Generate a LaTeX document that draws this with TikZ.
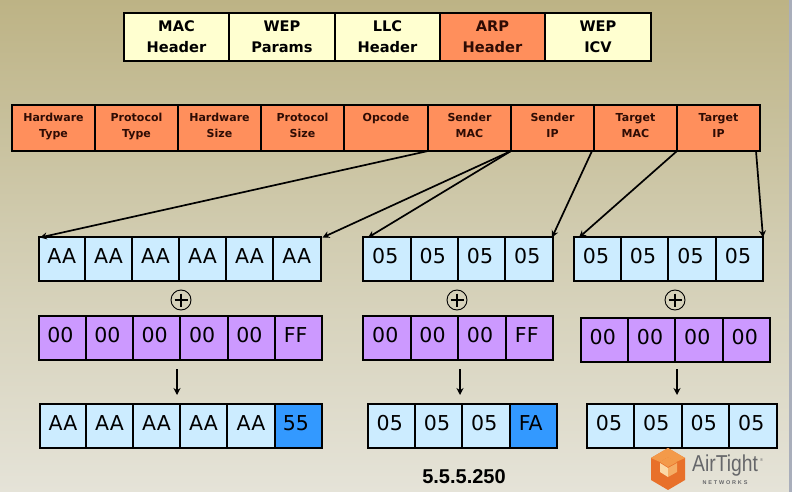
\documentclass[tikz,border=0pt]{standalone}
\usepackage{fontspec}
\setmainfont{DejaVu Sans}
\newfontfamily\arialf{Liberation Sans}
\usetikzlibrary{arrows.meta}
\definecolor{bgT}{HTML}{BDB385}
\definecolor{bgM}{HTML}{D2CDB2}
\definecolor{bgB}{HTML}{E5E3D8}
\definecolor{bgS}{HTML}{A9AEBB}
\definecolor{hdr}{HTML}{FFFFD0}
\definecolor{org}{HTML}{FF8F5C}
\definecolor{pale}{HTML}{CCECFF}
\definecolor{lil}{HTML}{CC99FF}
\definecolor{blu}{HTML}{3399FF}
\definecolor{mar}{HTML}{2E0C04}
\definecolor{logoA}{HTML}{E8702A}
\definecolor{logoB}{HTML}{F39A4A}
\definecolor{logoC}{HTML}{FBD9A6}
\definecolor{logoG}{HTML}{66676A}
\newcommand{\cellbox}[7]{\node[cellnode,#6,minimum width={(#3-#2)*1pt},minimum height={(#5-#4)*1pt}] (#1) at ({(#2+#3)/2},{(#4+#5)/2}) {#7};}
\newcommand{\twolines}[4]{\raisebox{#1}{\vbox{\baselineskip=#2\lineskiplimit=-10pt\halign{\hfil##\hfil\cr#3\cr#4\cr}}}}
\newcommand{\hd}[2]{\twolines{-1pt}{21pt}{#1}{#2}}
\newcommand{\fd}[2]{\twolines{6pt}{16pt}{#1}{#2}}
\newcommand{\by}[1]{\raisebox{5pt}{#1}}
\newcommand{\bz}[1]{\raisebox{5.5pt}{#1}\kern3pt}
\newcommand{\bq}[1]{\raisebox{5.5pt}{#1}\kern5pt}
\tikzset{
  cellnode/.style={draw=black,line width=2pt,inner sep=0pt,outer sep=0pt,rectangle},
  hcell/.style={fill=hdr,font=\fontsize{14.6}{17}\selectfont\bfseries,text=black},
  acell/.style={fill=org,font=\fontsize{14.6}{17}\selectfont\bfseries,text=mar},
  fcell/.style={fill=org,font=\fontsize{11}{13}\selectfont\bfseries,text=mar},
  pcell/.style={fill=pale,font=\fontsize{20.5}{24}\selectfont,text=black},
  mcell/.style={fill=lil,font=\fontsize{20.5}{24}\selectfont,text=black},
  rcell/.style={fill=blu,font=\fontsize{20.5}{24}\selectfont,text=black},
  arr/.style={draw=black,line width=1.7pt,-{Stealth[length=7pt,width=7pt]}},
  xorop/.style={circle,draw=black,line width=0.9pt,minimum size=20pt,inner sep=0pt,outer sep=0pt},
}
\begin{document}
\begin{tikzpicture}[x=1pt,y=-1pt]
\useasboundingbox (0,0) rectangle (792,492);
\shade[top color=bgT,bottom color=bgB,middle color=bgM] (0,0) rectangle (792,492);
\fill[fill=bgS] (789,0) rectangle (792,492);
% header row
\cellbox{mach}{124}{229}{13}{61}{hcell}{\hd{MAC}{Header}}
\cellbox{wepp}{229}{335}{13}{61}{hcell}{\hd{WEP}{Params}}
\cellbox{llch}{335}{440}{13}{61}{hcell}{\hd{LLC}{Header}}
\cellbox{arph}{440}{545}{13}{61}{acell}{\hd{ARP}{Header}}
\cellbox{wepi}{545}{651}{13}{61}{hcell}{\hd{WEP}{ICV}}
% field row
\cellbox{hwt}{12}{95}{105}{151}{fcell}{\fd{Hardware}{Type}}
\cellbox{prt}{95}{178}{105}{151}{fcell}{\fd{Protocol}{Type}}
\cellbox{hws}{178}{261}{105}{151}{fcell}{\fd{Hardware}{Size}}
\cellbox{prs}{261}{344}{105}{151}{fcell}{\fd{Protocol}{Size}}
\cellbox{opc}{344}{428}{105}{151}{fcell}{\fd{Opcode}{\strut}}
\cellbox{smac}{428}{511}{105}{151}{fcell}{\fd{Sender}{MAC}}
\cellbox{sip}{511}{594}{105}{151}{fcell}{\fd{Sender}{IP}}
\cellbox{tmac}{594}{677}{105}{151}{fcell}{\fd{Target}{MAC}}
\cellbox{tip}{677}{760}{105}{151}{fcell}{\fd{Target}{IP}}
% plain row A
\cellbox{aa1}{38.5}{85}{237}{281}{pcell}{\by{AA}}
\cellbox{aa2}{85}{132}{237}{281}{pcell}{\by{AA}}
\cellbox{aa3}{132}{179}{237}{281}{pcell}{\by{AA}}
\cellbox{aa4}{179}{226}{237}{281}{pcell}{\by{AA}}
\cellbox{aa5}{226}{273}{237}{281}{pcell}{\by{AA}}
\cellbox{aa6}{273}{320.5}{237}{281}{pcell}{\by{AA}}
\cellbox{sa1}{363}{410.5}{237}{281}{pcell}{\bz{05}}
\cellbox{sa2}{410.5}{458}{237}{281}{pcell}{\bz{05}}
\cellbox{sa3}{458}{505}{237}{281}{pcell}{\bz{05}}
\cellbox{sa4}{505}{552.5}{237}{281}{pcell}{\bz{05}}
\cellbox{ta1}{574}{621}{237}{281}{pcell}{\bz{05}}
\cellbox{ta2}{621}{668}{237}{281}{pcell}{\bz{05}}
\cellbox{ta3}{668}{716}{237}{281}{pcell}{\bz{05}}
\cellbox{ta4}{716}{763}{237}{281}{pcell}{\bz{05}}
% xor operators
\node[xorop] (x1) at (181,300) {};
\node[xorop] (x2) at (457,300) {};
\node[xorop] (x3) at (675,300) {};
\draw[line width=1.5pt] (x1.center)+(-6.5,0) -- +(6.5,0) (x1.center)+(0,-6.5) -- +(0,6.5);
\draw[line width=1.5pt] (x2.center)+(-6.5,0) -- +(6.5,0) (x2.center)+(0,-6.5) -- +(0,6.5);
\draw[line width=1.5pt] (x3.center)+(-6.5,0) -- +(6.5,0) (x3.center)+(0,-6.5) -- +(0,6.5);
% mask row
\cellbox{ma1}{38.5}{85.5}{316}{360}{mcell}{\bz{00}}
\cellbox{ma2}{85.5}{132.5}{316}{360}{mcell}{\bz{00}}
\cellbox{ma3}{132.5}{180}{316}{360}{mcell}{\bz{00}}
\cellbox{ma4}{180}{227.5}{316}{360}{mcell}{\bz{00}}
\cellbox{ma5}{227.5}{274.5}{316}{360}{mcell}{\bz{00}}
\cellbox{ma6}{274.5}{322}{316}{360}{mcell}{\bq{FF}}
\cellbox{mb1}{363}{410.5}{316}{360}{mcell}{\bz{00}}
\cellbox{mb2}{410.5}{457.5}{316}{360}{mcell}{\bz{00}}
\cellbox{mb3}{457.5}{505.5}{316}{360}{mcell}{\bz{00}}
\cellbox{mb4}{505.5}{553}{316}{360}{mcell}{\bq{FF}}
\cellbox{mc1}{580.5}{628}{318}{362}{mcell}{\bz{00}}
\cellbox{mc2}{628}{675}{318}{362}{mcell}{\bz{00}}
\cellbox{mc3}{675}{722.5}{318}{362}{mcell}{\bz{00}}
\cellbox{mc4}{722.5}{770}{318}{362}{mcell}{\bz{00}}
% result row
\cellbox{ra1}{40}{86}{404}{448}{pcell}{\by{AA}}
\cellbox{ra2}{86}{133}{404}{448}{pcell}{\by{AA}}
\cellbox{ra3}{133}{180}{404}{448}{pcell}{\by{AA}}
\cellbox{ra4}{180}{227}{404}{448}{pcell}{\by{AA}}
\cellbox{ra5}{227}{275}{404}{448}{pcell}{\by{AA}}
\cellbox{ra6}{275}{322}{404}{448}{rcell}{\bq{55}}
\cellbox{rb1}{367.5}{415}{404}{448}{pcell}{\bz{05}}
\cellbox{rb2}{415}{462}{404}{448}{pcell}{\bz{05}}
\cellbox{rb3}{462}{509.5}{404}{448}{pcell}{\bz{05}}
\cellbox{rb4}{509.5}{557}{404}{448}{rcell}{\bq{FA}}
\cellbox{rc1}{587}{634}{404}{448}{pcell}{\bz{05}}
\cellbox{rc2}{634}{681.5}{404}{448}{pcell}{\bz{05}}
\cellbox{rc3}{681.5}{729}{404}{448}{pcell}{\bz{05}}
\cellbox{rc4}{729}{776.5}{404}{448}{pcell}{\bz{05}}
% field connectors
\draw[arr] (smac.south west) -- ([xshift=1.5pt,yshift=-0.5pt]aa1.north west);
\draw[arr] (smac.south east) -- ([xshift=2pt,yshift=-0.5pt]aa6.north east);
\draw[arr] (smac.south east) -- ([xshift=5pt,yshift=-0.5pt]sa1.north west);
\draw[arr] ([xshift=-2pt]sip.south east) -- ([xshift=-0.5pt,yshift=-0.5pt]sa4.north east);
\draw[arr] (tip.south west) -- ([xshift=5pt,yshift=-0.5pt]ta1.north west);
\draw[arr] ([xshift=-4pt]tip.south east) -- ([yshift=-0.5pt]ta4.north east);
% result arrows
\coordinate (d1s) at (177,369); \coordinate (d1e) at (177,395);
\coordinate (d2s) at (460,369); \coordinate (d2e) at (460,395);
\coordinate (d3s) at (677,369); \coordinate (d3e) at (677,395);
\draw[arr] (d1s) -- (d1e);
\draw[arr] (d2s) -- (d2e);
\draw[arr] (d3s) -- (d3e);
% caption
\node[font=\arialf\fontsize{20}{24}\selectfont\bfseries,text=black,inner sep=0pt] (cap) at (464,477) {5.5.5.250};
% logo
\fill[logoA] (668,448) -- (685,458) -- (685,480) -- (668,490) -- (651,480) -- (651,458) -- cycle;
\fill[logoB] (668,448) -- (685,458) -- (676,462) -- (668,457) -- (660,462) -- (651,458) -- cycle;
\fill[logoB] (668,457) -- (677,462) -- (668,467) -- (660,462) -- cycle;
\fill[logoC] (660,463) -- (668,468) -- (668,477) -- (660,472) -- cycle;
\fill[logoB!70!logoC] (668,468) -- (677,463) -- (677,472) -- (668,477) -- cycle;
\node[anchor=west,inner sep=0pt,text=logoG,font=\arialf\fontsize{23}{26}\selectfont,xscale=0.84] (brand) at (692,466) {AirTight};
\node[anchor=west,inner sep=0pt,text=logoG,font=\arialf\fontsize{4}{4}\selectfont] (brandr) at (760,460) {®};
\node[anchor=center,inner sep=0pt,text=logoG,font=\arialf\fontsize{5.5}{6}\selectfont\bfseries] (brandn) at (725,483) {N\,\,E\,\,T\,\,W\,\,O\,\,R\,\,K\,\,S};
\end{tikzpicture}
\end{document}
